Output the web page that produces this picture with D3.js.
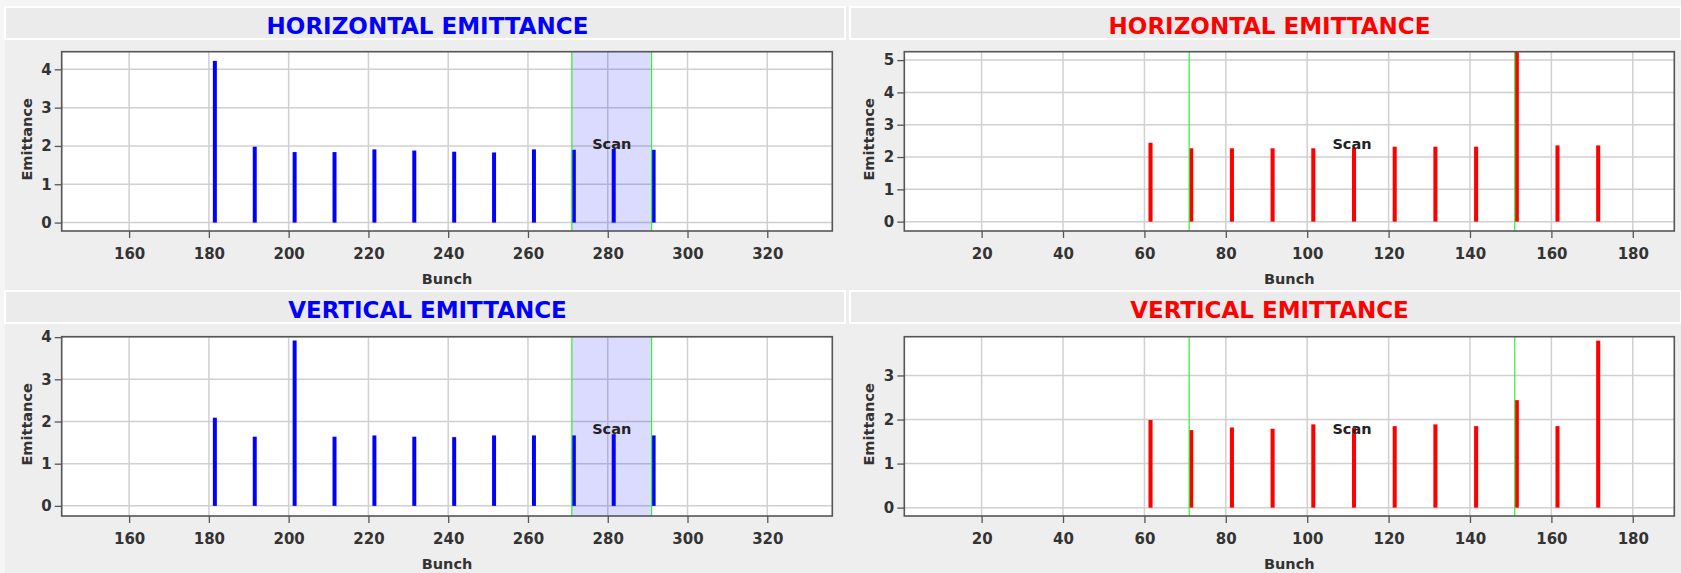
<!DOCTYPE html>
<html>
<head>
<meta charset="utf-8">
<script src="https://cdn.jsdelivr.net/npm/d3@7"></script>
<style>
  html, body { margin: 0; padding: 0; background: #f5f5f5; }
  svg { display: block; font-family: "DejaVu Sans", "Liberation Sans", sans-serif; }
</style>
</head>
<body>
<svg id="chart" width="1681" height="573"></svg>
<script>
// Bunch numbers of the two rings
const bunchesLeft  = [181, 191, 201, 211, 221, 231, 241, 251, 261, 271, 281, 291];
const bunchesRight = [61, 71, 81, 91, 101, 111, 121, 131, 141, 151, 161, 171];

// Emittance per bunch
const hEmitLeft  = [4.22, 1.98, 1.84, 1.84, 1.91, 1.88, 1.85, 1.83, 1.91, 1.90, 1.92, 1.90];
const vEmitLeft  = [2.09, 1.64, 3.92, 1.64, 1.67, 1.64, 1.63, 1.67, 1.67, 1.67, 1.70, 1.67];
const hEmitRight = [2.44, 2.27, 2.27, 2.27, 2.27, 2.28, 2.32, 2.32, 2.32, 5.30, 2.36, 2.36];
const vEmitRight = [1.99, 1.76, 1.82, 1.79, 1.89, 1.81, 1.85, 1.89, 1.85, 2.44, 1.85, 3.79];

// Scan windows (bunch range)
const scanLeft  = [271, 291];
const scanRight = [71, 151];

// Axis ranges and tick labels
const xDomainLeft  = [143.1, 336.3];
const xDomainRight = [1.0, 190.2];
const xTicksLeft   = [160, 180, 200, 220, 240, 260, 280, 300, 320];
const xTicksRight  = [20, 40, 60, 80, 100, 120, 140, 160, 180];
const yDomainHLeft  = [-0.22, 4.46];
const yDomainHRight = [-0.29, 5.26];
const yDomainVLeft  = [-0.24, 4.01];
const yDomainVRight = [-0.19, 3.88];
const yTicksHLeft  = [0, 1, 2, 3, 4];
const yTicksHRight = [0, 1, 2, 3, 4, 5];
const yTicksVLeft  = [0, 1, 2, 3, 4];
const yTicksVRight = [0, 1, 2, 3];

const titleH = "HORIZONTAL EMITTANCE";
const titleV = "VERTICAL EMITTANCE";

const svg = d3.select("#chart");
const W = 1681, H = 573;

// panel background
svg.append("rect").attr("x", 5).attr("y", 7).attr("width", W - 5).attr("height", H - 7)
  .attr("fill", "#eeeeee");

const cols = [
  { x: 5,   w: 840, titleX: 427.5, plotX0: 61.7,  plotX1: 832.3,  color: "#0000ff", bunches: bunchesLeft,
    xDomain: xDomainLeft, xTicks: xTicksLeft, scan: scanLeft, shade: true },
  { x: 850, w: 831, titleX: 1269.5, plotX0: 904.3, plotX1: 1674.3, color: "#ff0000", bunches: bunchesRight,
    xDomain: xDomainRight, xTicks: xTicksRight, scan: scanRight, shade: false }
];
const rows = [
  { titleY: 7,   plotY0: 51.7,  plotY1: 231, title: titleH },
  { titleY: 291, plotY0: 336.7, plotY1: 516, title: titleV }
];

const panels = [
  { c: 0, r: 0, values: hEmitLeft,  yDomain: yDomainHLeft,  yTicks: yTicksHLeft },
  { c: 1, r: 0, values: hEmitRight, yDomain: yDomainHRight, yTicks: yTicksHRight },
  { c: 0, r: 1, values: vEmitLeft,  yDomain: yDomainVLeft,  yTicks: yTicksVLeft },
  { c: 1, r: 1, values: vEmitRight, yDomain: yDomainVRight, yTicks: yTicksVRight }
];

panels.forEach((p, i) => {
  const col = cols[p.c], row = rows[p.r];
  const g = svg.append("g");

  // title bar
  g.append("rect")
    .attr("x", col.x).attr("y", row.titleY)
    .attr("width", col.w).attr("height", 32)
    .attr("fill", "#ebebeb").attr("stroke", "#ffffff").attr("stroke-width", 2);
  g.append("text")
    .attr("x", col.titleX).attr("y", row.titleY + 26.5)
    .attr("text-anchor", "middle")
    .attr("font-size", 23).attr("font-weight", "bold")
    .attr("fill", col.color)
    .text(row.title);

  const x = d3.scaleLinear().domain(col.xDomain).range([col.plotX0, col.plotX1]);
  const y = d3.scaleLinear().domain(p.yDomain).range([row.plotY1, row.plotY0]);
  const pw = col.plotX1 - col.plotX0, ph = row.plotY1 - row.plotY0;

  const clipId = "clip" + i;
  svg.append("clipPath").attr("id", clipId)
    .append("rect").attr("x", col.plotX0).attr("y", row.plotY0).attr("width", pw).attr("height", ph);

  // plot background
  g.append("rect").attr("x", col.plotX0).attr("y", row.plotY0)
    .attr("width", pw).attr("height", ph).attr("fill", "#ffffff");

  const plot = g.append("g").attr("clip-path", `url(#${clipId})`);

  // grid
  plot.selectAll(".gx").data(col.xTicks).join("line")
    .attr("x1", d => x(d)).attr("x2", d => x(d))
    .attr("y1", row.plotY0).attr("y2", row.plotY1)
    .attr("stroke", "#d0d0d0").attr("stroke-width", 1.5);
  plot.selectAll(".gy").data(p.yTicks).join("line")
    .attr("x1", col.plotX0).attr("x2", col.plotX1)
    .attr("y1", d => y(d)).attr("y2", d => y(d))
    .attr("stroke", "#d0d0d0").attr("stroke-width", 1.5);

  // scan window shading
  if (col.shade) {
    plot.append("rect")
      .attr("x", x(col.scan[0])).attr("y", row.plotY0)
      .attr("width", x(col.scan[1]) - x(col.scan[0])).attr("height", ph)
      .attr("fill", "#0000ff").attr("fill-opacity", 0.14);
  }

  // bars: each bunch occupies [bunch, bunch + 1]
  const data = col.bunches.map((b, k) => ({ b, v: p.values[k] }));
  plot.selectAll(".bar").data(data).join("rect")
    .attr("x", d => x(d.b)).attr("width", d => x(d.b + 1) - x(d.b))
    .attr("y", d => y(d.v)).attr("height", d => y(0) - y(d.v))
    .attr("fill", col.color);

  // scan window limits
  plot.selectAll(".scan").data(col.scan).join("line")
    .attr("x1", d => x(d)).attr("x2", d => x(d))
    .attr("y1", row.plotY0).attr("y2", row.plotY1)
    .attr("stroke", "#33ee33").attr("stroke-width", 1.2);

  // scan label
  g.append("text")
    .attr("x", x((col.scan[0] + col.scan[1]) / 2))
    .attr("y", (row.plotY0 + row.plotY1) / 2 + 7.5)
    .attr("text-anchor", "middle")
    .attr("font-size", 14.5).attr("font-weight", "bold")
    .attr("fill", "#222")
    .text("Scan");

  // axes
  const xAxis = d3.axisBottom(x).tickValues(col.xTicks).tickSize(7).tickPadding(10).tickFormat(d3.format("d"));
  const yAxis = d3.axisLeft(y).tickValues(p.yTicks).tickSize(7).tickPadding(3).tickFormat(d3.format("d"));
  const gx = g.append("g").attr("transform", `translate(0,${row.plotY1})`).call(xAxis);
  const gy = g.append("g").attr("transform", `translate(${col.plotX0},0)`).call(yAxis);
  [gx, gy].forEach(a => {
    a.select(".domain").remove();
    a.selectAll(".tick line").attr("stroke", "#555").attr("stroke-width", 1.3);
    a.selectAll(".tick text").attr("font-size", 15).attr("font-weight", "bold")
      .attr("font-family", "DejaVu Sans, sans-serif").attr("fill", "#333");
  });

  // frame
  g.append("rect").attr("x", col.plotX0).attr("y", row.plotY0)
    .attr("width", pw).attr("height", ph)
    .attr("fill", "none").attr("stroke", "#555").attr("stroke-width", 1.6);

  // axis titles
  g.append("text")
    .attr("transform", `translate(${col.plotX0 - 30},${(row.plotY0 + row.plotY1) / 2 - 2}) rotate(-90)`)
    .attr("text-anchor", "middle")
    .attr("font-size", 14.5).attr("font-weight", "bold").attr("fill", "#333")
    .text("Emittance");
  g.append("text")
    .attr("x", (col.plotX0 + col.plotX1) / 2).attr("y", row.plotY1 + 53)
    .attr("text-anchor", "middle")
    .attr("font-size", 14.5).attr("font-weight", "bold").attr("fill", "#333")
    .text("Bunch");
});
</script>
</body>
</html>
